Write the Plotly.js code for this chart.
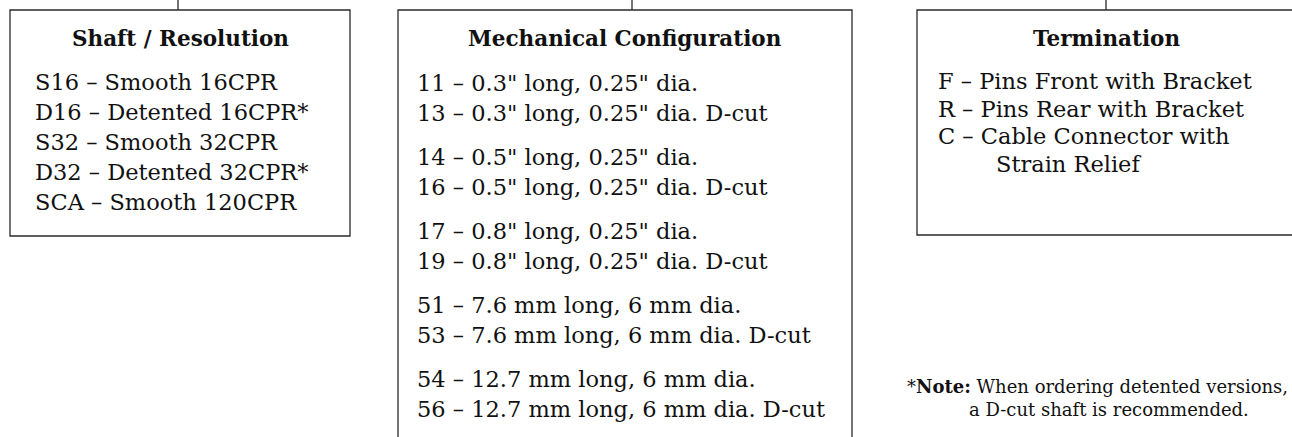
<!DOCTYPE html>
<html>
<head>
<meta charset="utf-8">
<script src="https://cdn.plot.ly/plotly-3.0.1.min.js"></script>
<style>
html,body{margin:0;padding:0;background:#fff;}
#chart{width:1292px;height:437px;}
</style>
</head>
<body>
<div id="chart"></div>
<script>
// ---- content ----
var boxTitles = ["Shaft / Resolution", "Mechanical Configuration", "Termination"];
var shaftItems = [
  "S16 \u2013 Smooth 16CPR",
  "D16 \u2013 Detented 16CPR*",
  "S32 \u2013 Smooth 32CPR",
  "D32 \u2013 Detented 32CPR*",
  "SCA \u2013 Smooth 120CPR"
];
var mechItems = [
  "11 \u2013 0.3\" long, 0.25\" dia.",
  "13 \u2013 0.3\" long, 0.25\" dia. D-cut",
  "14 \u2013 0.5\" long, 0.25\" dia.",
  "16 \u2013 0.5\" long, 0.25\" dia. D-cut",
  "17 \u2013 0.8\" long, 0.25\" dia.",
  "19 \u2013 0.8\" long, 0.25\" dia. D-cut",
  "51 \u2013 7.6 mm long, 6 mm dia.",
  "53 \u2013 7.6 mm long, 6 mm dia. D-cut",
  "54 \u2013 12.7 mm long, 6 mm dia.",
  "56 \u2013 12.7 mm long, 6 mm dia. D-cut"
];
var mechGroups = [0,0,1,1,2,2,3,3,4,4];
var termItems = [
  "F \u2013 Pins Front with Bracket",
  "R \u2013 Pins Rear with Bracket",
  "C \u2013 Cable Connector with",
  "Strain Relief"
];
var termIndent = [0,0,0,1];
var noteLines = ["*<b>Note:</b> When ordering detented versions,", "a D-cut shaft is recommended."];

// ---- layout geometry ----
var W = 1292, H = 437;
var FONT = "DejaVu Serif, Liberation Serif, serif";
var ink = "#111";
var lineCol = "#2a2a2a";
var boxes = [
  {x0: 10,  x1: 350,  y0: 10, y1: 236, cx: 178},
  {x0: 398, x1: 852,  y0: 10, y1: 460, cx: 632},
  {x0: 917, x1: 1310, y0: 10, y1: 235, cx: 1106}
];

var shapes = [];
var annotations = [];
boxes.forEach(function(b, i){
  shapes.push({type:"rect", xref:"x", yref:"y", x0:b.x0, x1:b.x1, y0:b.y0, y1:b.y1,
    line:{color:lineCol, width:1.3}, fillcolor:"rgba(0,0,0,0)"});
  shapes.push({type:"line", xref:"x", yref:"y", x0:b.cx, x1:b.cx, y0:-5, y1:b.y0,
    line:{color:lineCol, width:1.3}});
  var tcx = (i === 2) ? b.cx : (b.x0 + b.x1) / 2;
  annotations.push({x:tcx, y:38, xref:"x", yref:"y", text:"<b>"+boxTitles[i]+"</b>",
    showarrow:false, xanchor:"center", yanchor:"middle",
    font:{family:FONT, size:21.5, color:ink}});
});

var itemFont = {family:FONT, size:22.5, color:ink};
shaftItems.forEach(function(t, k){
  annotations.push({x:33, y:82 + k*30, xref:"x", yref:"y", text:t, showarrow:false,
    xanchor:"left", yanchor:"middle", font:itemFont});
});
mechItems.forEach(function(t, k){
  var y = 83 + k*30 + mechGroups[k]*14;
  annotations.push({x:415, y:y, xref:"x", yref:"y", text:t, showarrow:false,
    xanchor:"left", yanchor:"middle", font:itemFont});
});
termItems.forEach(function(t, k){
  annotations.push({x:936 + termIndent[k]*58, y:81 + k*27.5, xref:"x", yref:"y", text:t, showarrow:false,
    xanchor:"left", yanchor:"middle", font:itemFont});
});
noteLines.forEach(function(t, k){
  annotations.push({x:1097 + k*12, y:386 + k*23, xref:"x", yref:"y", text:t, showarrow:false,
    xanchor:"center", yanchor:"middle", font:{family:FONT, size:18, color:ink}});
});

var layout = {
  width: W, height: H,
  margin: {l:0, r:0, t:0, b:0},
  paper_bgcolor: "#fff", plot_bgcolor: "#fff",
  xaxis: {range:[0, W], visible:false, fixedrange:true},
  yaxis: {range:[H, 0], visible:false, fixedrange:true},
  shapes: shapes,
  annotations: annotations,
  showlegend: false
};
Plotly.newPlot("chart", [], layout, {staticPlot:true, displayModeBar:false});
</script>
</body>
</html>
